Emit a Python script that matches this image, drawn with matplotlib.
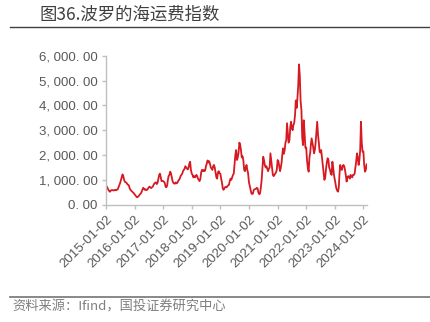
import matplotlib
matplotlib.use('Agg')
import matplotlib.pyplot as plt
import pandas as pd
from matplotlib.lines import Line2D
from matplotlib.ticker import FuncFormatter, MultipleLocator

plt.rcParams['font.family'] = ['Liberation Sans', 'Noto Sans CJK SC']

title = '图36.波罗的海运费指数'
source = '资料来源：Ifind，国投证券研究中心'
tick_labels = ['2015-01-02', '2016-01-02', '2017-01-02', '2018-01-02', '2019-01-02',
               '2020-01-02', '2021-01-02', '2022-01-02', '2023-01-02', '2024-01-02']

# index readings, three per month (1st, 11th, 21st)
bdi_2015 = [770, 730, 680, 600, 560, 520, 560, 580, 590, 580, 570, 590,
            600, 580, 600, 620, 700, 780, 870, 980, 1100, 1220, 1150, 1000,
            920, 900, 880, 830, 800, 780, 650, 600, 560, 530, 500, 470]
bdi_2016 = [420, 380, 340, 300, 310, 340, 380, 420, 450, 520, 600, 680,
            640, 600, 620, 590, 600, 650, 700, 730, 690, 670, 700, 730,
            800, 860, 880, 900, 830, 880, 1050, 1200, 1250, 1100, 950, 960]
bdi_2017 = [950, 920, 880, 720, 700, 780, 980, 1150, 1200, 1330, 1250, 1100,
            950, 880, 850, 850, 900, 860, 880, 950, 1000, 1050, 1150, 1200,
            1250, 1350, 1400, 1450, 1550, 1500, 1450, 1420, 1500, 1650, 1730, 1400]
bdi_2018 = [1250, 1200, 1100, 1150, 1100, 1150, 1200, 1150, 1050, 1000, 950, 1050,
            1300, 1400, 1350, 1400, 1350, 1380, 1550, 1650, 1780, 1700, 1750, 1650,
            1500, 1450, 1400, 1550, 1600, 1500, 1300, 1100, 1050, 1300, 1350, 1270]
bdi_2019 = [1250, 1050, 900, 650, 600, 660, 700, 720, 700, 740, 780, 800,
            950, 1050, 1000, 1100, 1200, 1250, 1650, 2000, 2200, 1800, 1900, 2100,
            2500, 2400, 2200, 1900, 1950, 1800, 1400, 1350, 1500, 1600, 1400, 1270]
bdi_2020 = [900, 760, 600, 460, 430, 450, 580, 620, 630, 640, 680, 650,
            480, 420, 450, 700, 1000, 1500, 1930, 1800, 1600, 1500, 1550, 1450,
            1350, 1450, 1500, 2070, 1800, 1500, 1200, 1150, 1200, 1250, 1300, 1400]
bdi_2021 = [1800, 1750, 1550, 1350, 1500, 1700, 2000, 2270, 2050, 2200, 2500, 2600,
            3280, 2900, 2500, 2600, 3100, 3340, 3100, 3000, 3200, 3300, 3600, 4200,
            3900, 4300, 4800, 5650, 5200, 4200, 3800, 2700, 2400, 3400, 2900, 2300]
bdi_2022 = [2300, 1800, 1500, 1330, 1900, 2100, 2400, 2670, 2500, 2300, 2070, 2200,
            2500, 2900, 3340, 2800, 2500, 2140, 2100, 2200, 1900, 1600, 1300, 1000,
            1100, 1450, 1700, 1870, 1800, 1500, 1400, 1250, 1200, 1730, 1500, 1200]
bdi_2023 = [1000, 800, 650, 560, 525, 700, 1200, 1600, 1450, 1400, 1550, 1600,
            1550, 1400, 1200, 930, 1100, 1150, 1130, 1050, 1200, 1150, 1100, 1200,
            1200, 1250, 1500, 1750, 2070, 1900, 1600, 1800, 2200, 3340, 2500, 2140]
bdi_2024 = [2140, 1600, 1330, 1400, 1627]

values = (bdi_2015 + bdi_2016 + bdi_2017 + bdi_2018 + bdi_2019 +
          bdi_2020 + bdi_2021 + bdi_2022 + bdi_2023 + bdi_2024)
dates = [pd.Timestamp(y, m, d) for y in range(2015, 2025)
         for m in range(1, 13) for d in (1, 11, 21)][:len(values)]
dates[0] = pd.Timestamp('2015-01-02')

fig = plt.figure(figsize=(4.3, 3.22), dpi=100)
ax = fig.add_axes([0.2465, 0.3643, 0.607, 0.4627])

ax.plot(dates, values, color='#D71A22', lw=1.3)

ax.set_ylim(0, 6000)
ax.yaxis.set_major_locator(MultipleLocator(1000))
ax.yaxis.set_major_formatter(FuncFormatter(
    lambda v, p: f'{v:,.2f}'.replace(',', ', ').replace('.', '. ')))
ax.set_xlim(pd.Timestamp('2015-01-02'), pd.Timestamp('2024-02-16'))
ax.set_xticks(pd.to_datetime(tick_labels))
ax.set_xticklabels(tick_labels, rotation=45, ha='right', rotation_mode='anchor')

for s in ['top', 'right']:
    ax.spines[s].set_visible(False)
for s in ['left', 'bottom']:
    ax.spines[s].set_color('#BFBFBF')
    ax.spines[s].set_linewidth(1.0)
ax.tick_params(direction='out', length=3, width=1.0, color='#BFBFBF',
               labelcolor='#595959', labelsize=9.5, pad=3)

fig.text(0.093, 0.955, title, fontsize=12.5, color='#404040',
         va='center', ha='left', family=['Noto Sans CJK SC', 'DejaVu Sans'])
fig.add_artist(Line2D([10 / 430, 1], [1 - 26.7 / 322] * 2, transform=fig.transFigure,
                      color='#404040', lw=1.0))
fig.add_artist(Line2D([10 / 430, 1], [1 - 296.7 / 322] * 2, transform=fig.transFigure,
                      color='#7F7F7F', lw=1.3))
fig.text(0.028, 1 - 307.5 / 322, source, fontsize=9.5, color='#7F7F7F',
         va='center', ha='left', family=['Noto Sans CJK SC', 'DejaVu Sans'])

fig.savefig('out.png', dpi=100)
